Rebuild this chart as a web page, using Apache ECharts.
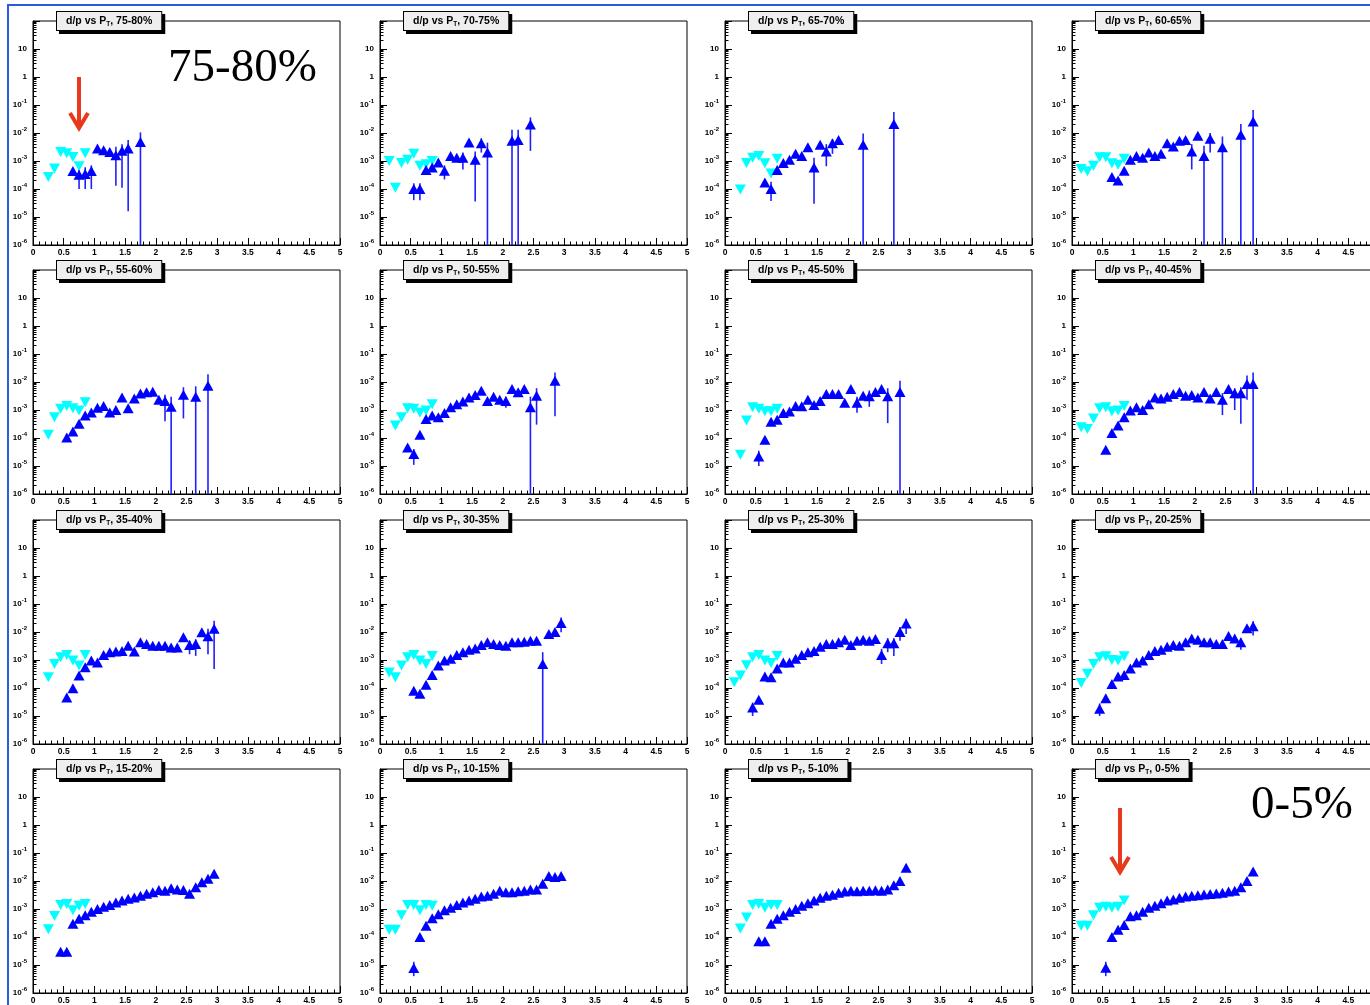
<!DOCTYPE html>
<html>
<head>
<meta charset="utf-8">
<title>d/p vs pT</title>
<script src="https://cdn.jsdelivr.net/npm/echarts@6.0.0/dist/echarts.min.js"></script>
<style>
    html, body { margin: 0; padding: 0; background: #fff; }
    #main { width: 1370px; height: 1005px; }
</style>
</head>
<body>
<div id="main"></div>
<script>
// centrality bins, one panel each (left to right, top to bottom)
const centralities = ['75-80%', '70-75%', '65-70%', '60-65%', '55-60%', '50-55%', '45-50%', '40-45%',
                      '35-40%', '30-35%', '25-30%', '20-25%', '15-20%', '10-15%', '5-10%', '0-5%'];

// cyan points: [pT, d/p]
// blue points: [pT, d/p] or [pT, d/p, errLow, errHigh] when the error bar sticks out
const cyan_75_80 = [[0.25,2.7e-4],[0.35,5.4e-4],[0.45,2.1e-3],[0.55,1.9e-3],[0.65,1.4e-3],[0.75,6.5e-4],[0.85,1.9e-3]];
const blue_75_80 = [[0.65,4.4e-4],[0.75,3.2e-4,1.0e-4,6e-4],[0.85,3.4e-4,1.0e-4,6e-4],[0.95,4.4e-4,1.0e-4,7e-4],[1.05,2.8e-3],[1.15,2.4e-3],[1.25,2.1e-3],
    [1.35,1.6e-3,1.3e-4,3.2e-3],[1.45,2.3e-3,1.1e-4,4e-3],[1.55,2.8e-3,1.6e-5,5.6e-3],[1.75,4.8e-3,1e-6,1.05e-2]];

const cyan_70_75 = [[0.15,1.0e-3],[0.25,1.1e-4],[0.35,8.5e-4],[0.45,1.1e-3],[0.55,1.8e-3],[0.65,6.8e-4],[0.75,7.7e-4],[0.85,1.0e-3]];
const blue_70_75 = [[0.55,1.0e-4,4e-5,1.6e-4],[0.65,1.0e-4,4e-5,1.6e-4],[0.75,4.8e-4],[0.85,5.9e-4],[0.95,8.9e-4],[1.05,4.5e-4,2.2e-4,7e-4],[1.15,1.5e-3],[1.25,1.3e-3],
    [1.35,1.3e-3,5e-4,2e-3],[1.45,4.6e-3],[1.55,1.1e-3,3.6e-5,2.2e-3],[1.65,4.3e-3,2e-3,6.5e-3],[1.75,2.0e-3,1e-6,4.5e-3],[2.15,5.3e-3,1e-6,1.3e-2],
    [2.25,5.6e-3,1e-6,1.3e-2],[2.45,2.0e-2,2.3e-3,3.6e-2]];

const cyan_65_70 = [[0.25,9.5e-5],[0.35,8.5e-4],[0.45,1.3e-3],[0.55,1.5e-3],[0.65,8.3e-4],[0.75,3.6e-4],[0.85,1.2e-3]];
const blue_65_70 = [[0.65,1.7e-4],[0.75,1.0e-4,3.7e-5,1.8e-4],[0.85,4.8e-4],[0.95,8.5e-4],[1.05,1.1e-3],[1.15,1.8e-3],[1.25,1.5e-3],[1.35,3.1e-3],
    [1.45,5.9e-4,3.0e-5,1.3e-3],[1.55,3.8e-3],[1.65,2.2e-3,6.5e-4,4e-3],[1.75,4.3e-3,1.8e-3,6e-3],[1.85,5.6e-3],[2.25,3.8e-3,1e-6,9.5e-3],[2.75,2.1e-2,1e-6,5.6e-2]];

const cyan_60_65 = [[0.15,5.2e-4],[0.25,4.3e-4],[0.35,6.8e-4],[0.45,1.35e-3],[0.55,1.35e-3],[0.65,8.3e-4],[0.75,7.4e-4],[0.85,1.2e-3]];
const blue_60_65 = [[0.65,2.7e-4],[0.75,2.0e-4],[0.85,4.5e-4],[0.95,1.1e-3],[1.05,1.5e-3],[1.15,1.3e-3],[1.25,2.0e-3],[1.35,1.5e-3],[1.45,1.8e-3],[1.55,4.3e-3],
    [1.65,3.3e-3],[1.75,5.3e-3],[1.85,5.6e-3],[1.95,2.2e-3,5e-4,4e-3],[2.05,8e-3],[2.15,1.5e-3,1e-6,3.5e-3],[2.25,6.2e-3,2e-3,1e-2],[2.45,3.1e-3,1e-6,7.5e-3],
    [2.75,8.7e-3,1e-6,2.1e-2],[2.95,2.6e-2,1e-6,6.6e-2]];

const cyan_55_60 = [[0.25,1.3e-4],[0.35,5.5e-4],[0.45,1.1e-3],[0.55,1.4e-3],[0.65,1.15e-3],[0.75,9.5e-4],[0.85,1.9e-3]];
const blue_55_60 = [[0.55,1.05e-4],[0.65,1.7e-4],[0.75,3.2e-4],[0.85,6.3e-4],[0.95,8.2e-4],[1.05,1.2e-3],[1.15,1.4e-3],[1.25,8.2e-4],[1.35,1.0e-3],[1.45,2.8e-3],
    [1.55,1.15e-3],[1.65,2.6e-3],[1.75,3.9e-3],[1.85,4.3e-3],[1.95,4.5e-3],[2.05,2.3e-3],[2.15,2.1e-3,4e-4,3.5e-3],[2.25,1.3e-3,1e-6,3e-3],
    [2.45,3.5e-3,5e-4,6.5e-3],[2.65,3.0e-3,1e-6,7e-3],[2.85,7.4e-3,1e-6,1.9e-2]];

const cyan_50_55 = [[0.25,2.8e-4],[0.35,5.5e-4],[0.45,1.15e-3],[0.55,1.1e-3],[0.65,8.2e-4],[0.75,9.5e-4],[0.85,1.6e-3]];
const blue_50_55 = [[0.45,4.6e-5],[0.55,2.7e-5,1.1e-5,4e-5],[0.65,1.3e-4],[0.75,4.8e-4],[0.85,6.3e-4],[0.95,5.5e-4],[1.05,7.8e-4],[1.15,1.25e-3],[1.25,1.6e-3],
    [1.35,2.0e-3],[1.45,2.8e-3],[1.55,3.4e-3],[1.65,4.9e-3],[1.75,2.1e-3],[1.85,3.0e-3],[1.95,2.3e-3],[2.05,2.1e-3,1.2e-3,3e-3],[2.15,5.6e-3],[2.25,4.3e-3],
    [2.35,5.6e-3],[2.45,1.25e-3,1e-6,3e-3],[2.55,3.2e-3,3e-4,6e-3],[2.85,1.1e-2,6e-4,2.2e-2]];

const cyan_45_50 = [[0.25,2.5e-5],[0.35,4.2e-4],[0.45,1.25e-3],[0.55,1.1e-3],[0.65,9e-4],[0.75,9e-4],[0.85,1.1e-3]];
const blue_45_50 = [[0.55,2.2e-5,1.0e-5,3.5e-5],[0.65,8.7e-5],[0.75,3.8e-4],[0.85,4.5e-4],[0.95,7.8e-4],[1.05,8.9e-4],[1.15,1.4e-3],[1.25,1.35e-3],[1.35,2.3e-3],
    [1.45,1.5e-3],[1.55,2.1e-3],[1.65,3.7e-3],[1.75,3.7e-3],[1.85,3.7e-3],[1.95,1.8e-3],[2.05,5.6e-3],[2.15,1.8e-3,8e-4,3e-3],[2.25,3.2e-3],
    [2.35,3.1e-3,1.3e-3,5e-3],[2.45,4.4e-3],[2.55,5.6e-3],[2.65,3.1e-3,3.4e-4,6e-3],[2.85,4.4e-3,1e-6,1.1e-2]];

const cyan_40_45 = [[0.15,2.4e-4],[0.25,2.1e-4],[0.35,5e-4],[0.45,1.15e-3],[0.55,1.25e-3],[0.65,9e-4],[0.75,9.5e-4],[0.85,1.4e-3]];
const blue_40_45 = [[0.55,3.8e-5],[0.65,1.5e-4],[0.75,2.8e-4],[0.85,5.5e-4],[0.95,9.5e-4],[1.05,1.25e-3],[1.15,1.0e-3],[1.25,1.6e-3],[1.35,2.8e-3],[1.45,2.6e-3],
    [1.55,3.0e-3],[1.65,3.7e-3],[1.75,4.4e-3],[1.85,3.2e-3],[1.95,3.4e-3],[2.05,2.8e-3],[2.15,4.4e-3],[2.25,2.6e-3],[2.35,4.4e-3],[2.45,2.3e-3,6.6e-4,4e-3],
    [2.55,5.6e-3],[2.65,4.0e-3,1e-3,6e-3],[2.75,4.0e-3,3.2e-4,6.5e-3],[2.85,8.5e-3,2.3e-3,1.7e-2],[2.95,8.5e-3,1e-6,2.2e-2]];

const cyan_35_40 = [[0.25,2.4e-4],[0.35,7.2e-4],[0.45,1.25e-3],[0.55,1.5e-3],[0.65,9.5e-4],[0.75,6.3e-4],[0.85,1.5e-3]];
const blue_35_40 = [[0.55,4.6e-5],[0.65,9.7e-5],[0.75,2.8e-4],[0.85,5.5e-4],[0.95,9.5e-4],[1.05,8.2e-4],[1.15,1.5e-3],[1.25,1.9e-3],[1.35,2.0e-3],[1.45,2.1e-3],
    [1.55,3.2e-3],[1.65,2.0e-3],[1.75,4.3e-3],[1.85,3.7e-3],[1.95,3.2e-3],[2.05,3.2e-3],[2.15,3.2e-3],[2.25,2.8e-3],[2.35,2.8e-3],[2.45,6.5e-3],
    [2.55,3.4e-3,1.6e-3,5e-3],[2.65,3.7e-3,1.4e-3,5.5e-3],[2.75,9.8e-3],[2.85,7e-3,1.6e-3,1.3e-2],[2.95,1.3e-2,4.8e-4,2.5e-2]];

const cyan_30_35 = [[0.15,3.6e-4],[0.25,2.4e-4],[0.35,6.3e-4],[0.45,1.25e-3],[0.55,1.5e-3],[0.65,9.5e-4],[0.75,7.2e-4],[0.85,1.4e-3]];
const blue_30_35 = [[0.55,8e-5],[0.65,6.2e-5],[0.75,1.3e-4],[0.85,2.9e-4],[0.95,6.3e-4],[1.05,9.5e-4],[1.15,1.1e-3],[1.25,1.5e-3],[1.35,1.9e-3],[1.45,2.3e-3],
    [1.55,2.6e-3],[1.65,3.4e-3],[1.75,4.3e-3],[1.85,3.7e-3],[1.95,3.4e-3],[2.05,3.2e-3],[2.15,4.3e-3],[2.25,4.3e-3],[2.35,4.5e-3],[2.45,4.9e-3],[2.55,4.9e-3],
    [2.65,7.2e-4,1e-6,1.9e-3],[2.75,8.5e-3],[2.85,1.0e-2],[2.95,2.1e-2,9.7e-3,3.3e-2]];

const cyan_25_30 = [[0.15,1.6e-4],[0.25,2.8e-4],[0.35,6.5e-4],[0.45,1.25e-3],[0.55,1.5e-3],[0.65,9.5e-4],[0.75,7.8e-4],[0.85,1.4e-3]];
const blue_25_30 = [[0.45,2.0e-5,1.0e-5,3e-5],[0.55,3.8e-5],[0.65,2.6e-4],[0.75,2.4e-4],[0.85,5e-4],[0.95,8.2e-4],[1.05,8.2e-4],[1.15,1.1e-3],[1.25,1.5e-3],
    [1.35,1.9e-3],[1.45,2.1e-3],[1.55,3.0e-3],[1.65,3.7e-3],[1.75,3.7e-3],[1.85,4.3e-3],[1.95,5.3e-3],[2.05,3.4e-3],[2.15,4.9e-3],[2.25,5.3e-3],[2.35,4.9e-3],
    [2.45,5.6e-3],[2.55,1.5e-3,7.2e-4,2.5e-3],[2.65,4.0e-3,1.9e-3,6e-3],[2.75,4.0e-3,1.4e-3,6e-3],[2.85,1.0e-2,4.9e-3,1.5e-2],[2.95,2.0e-2,8.5e-3,3e-2]];

const cyan_20_25 = [[0.15,1.5e-4],[0.25,3.2e-4],[0.35,7.2e-4],[0.45,1.25e-3],[0.55,1.35e-3],[0.65,1.0e-3],[0.75,9.5e-4],[0.85,1.35e-3]];
const blue_20_25 = [[0.45,1.8e-5,1.0e-5,2.8e-5],[0.55,4.3e-5],[0.65,1.4e-4],[0.75,2.6e-4],[0.85,2.9e-4],[0.95,5.0e-4],[1.05,8.2e-4],[1.15,9.5e-4],[1.25,1.5e-3],
    [1.35,2.1e-3],[1.45,2.3e-3],[1.55,3.0e-3],[1.65,3.4e-3],[1.75,3.2e-3],[1.85,4.3e-3],[1.95,5.9e-3],[2.05,5.3e-3],[2.15,4.3e-3],[2.25,4.3e-3],[2.35,3.7e-3],
    [2.45,3.7e-3],[2.55,7.2e-3],[2.65,5.9e-3],[2.75,4.3e-3,2.3e-3,6e-3],[2.85,1.35e-2],[2.95,1.6e-2,7.5e-3,2.4e-2]];

const cyan_15_20 = [[0.25,1.9e-4],[0.35,5.6e-4],[0.45,1.4e-3],[0.55,1.5e-3],[0.65,9e-4],[0.75,1.3e-3],[0.85,1.5e-3]];
const blue_15_20 = [[0.45,3.0e-5],[0.55,3.0e-5],[0.65,3.0e-4],[0.75,4.5e-4],[0.85,6e-4],[0.95,8e-4],[1.05,1.0e-3],[1.15,1.2e-3],[1.25,1.4e-3],[1.35,1.7e-3],
    [1.45,2.0e-3],[1.55,2.3e-3],[1.65,2.6e-3],[1.75,3.0e-3],[1.85,3.5e-3],[1.95,4.0e-3],[2.05,4.8e-3],[2.15,4.5e-3],[2.25,5.5e-3],[2.35,5.0e-3],[2.45,4.8e-3],
    [2.55,3.5e-3],[2.65,6e-3],[2.75,9e-3],[2.85,1.2e-2],[2.95,1.8e-2]];

const cyan_10_15 = [[0.15,1.8e-4],[0.25,1.8e-4],[0.35,6e-4],[0.45,1.4e-3],[0.55,1.4e-3],[0.65,9e-4],[0.75,1.4e-3],[0.85,1.3e-3]];
const blue_10_15 = [[0.55,7.8e-6,4e-6,1.3e-5],[0.65,1.0e-4],[0.75,2.5e-4],[0.85,4.7e-4],[0.95,6.5e-4],[1.05,9e-4],[1.15,1.1e-3],[1.25,1.4e-3],[1.35,1.7e-3],
    [1.45,2.0e-3],[1.55,2.3e-3],[1.65,2.8e-3],[1.75,3.0e-3],[1.85,3.5e-3],[1.95,4.5e-3],[2.05,4.0e-3],[2.15,4.0e-3],[2.25,4.3e-3],[2.35,4.5e-3],[2.45,5.0e-3],
    [2.55,5.0e-3],[2.65,8e-3],[2.75,1.5e-2],[2.85,1.4e-2],[2.95,1.5e-2]];

const cyan_5_10 = [[0.25,2.0e-4],[0.35,5e-4],[0.45,1.4e-3],[0.55,1.5e-3],[0.65,1.1e-3],[0.75,1.4e-3],[0.85,1.4e-3]];
const blue_5_10 = [[0.55,7e-5],[0.65,7e-5],[0.75,3.0e-4],[0.85,4.5e-4],[0.95,6e-4],[1.05,8e-4],[1.15,1.0e-3],[1.25,1.3e-3],[1.35,1.6e-3],[1.45,2.0e-3],
    [1.55,2.5e-3],[1.65,3.0e-3],[1.75,3.2e-3],[1.85,3.8e-3],[1.95,4.2e-3],[2.05,4.5e-3],[2.15,4.3e-3],[2.25,4.5e-3],[2.35,4.5e-3],[2.45,4.7e-3],[2.55,4.5e-3],
    [2.65,5.0e-3],[2.75,7e-3],[2.85,1.0e-2],[2.95,3.0e-2]];

const cyan_0_5 = [[0.15,2.5e-4],[0.25,2.5e-4],[0.35,6e-4],[0.45,1.1e-3],[0.55,1.2e-3],[0.65,1.1e-3],[0.75,1.2e-3],[0.85,2e-3]];
const blue_0_5 = [[0.55,8e-6,4e-6,1.3e-5],[0.65,1e-4],[0.75,1.8e-4],[0.85,2.7e-4],[0.95,5.5e-4],[1.05,6e-4],[1.15,8e-4],[1.25,1.1e-3],[1.35,1.3e-3],[1.45,1.6e-3],
    [1.55,2.0e-3],[1.65,2.2e-3],[1.75,2.5e-3],[1.85,2.8e-3],[1.95,3.0e-3],[2.05,3.1e-3],[2.15,3.3e-3],[2.25,3.4e-3],[2.35,3.6e-3],[2.45,3.8e-3],[2.55,4.2e-3],
    [2.65,4.5e-3],[2.75,6e-3],[2.85,1.0e-2],[2.95,2.2e-2]];

const cyanSets = [cyan_75_80, cyan_70_75, cyan_65_70, cyan_60_65, cyan_55_60, cyan_50_55, cyan_45_50, cyan_40_45,
                  cyan_35_40, cyan_30_35, cyan_25_30, cyan_20_25, cyan_15_20, cyan_10_15, cyan_5_10, cyan_0_5];
const blueSets = [blue_75_80, blue_70_75, blue_65_70, blue_60_65, blue_55_60, blue_50_55, blue_45_50, blue_40_45,
                  blue_35_40, blue_30_35, blue_25_30, blue_20_25, blue_15_20, blue_10_15, blue_5_10, blue_0_5];

// axis ranges
const xRange = [0, 5];
const yRange = [1e-6, 100];

const font = 'Liberation Sans, Arial, sans-serif';
const colLeft = [33, 380, 725, 1072];
const rowTop = [21, 270, 520, 769];
const panelW = 307, panelH = 224;

function renderErr(params, api) {
    let lo = api.coord([api.value(0), api.value(1)]);
    let hi = api.coord([api.value(0), api.value(2)]);
    return {
        type: 'line',
        shape: { x1: lo[0], y1: lo[1], x2: hi[0], y2: hi[1] },
        style: { stroke: '#1f1fff', lineWidth: 1.6 }
    };
}

function yLabel(value) {
    let e = Math.round(Math.log10(value));
    if (e >= 2) return '';
    if (e === 1) return '{b|10}';
    if (e === 0) return '{b|1}';
    return '{b|10}{s|' + e + '}';
}

let grids = [], xAxes = [], yAxes = [], series = [], graphics = [];

for (let i = 0; i < centralities.length; i++) {
    let gx = colLeft[i % 4], gy = rowTop[Math.floor(i / 4)];
    grids.push({
        left: gx, top: gy, width: panelW, height: panelH,
        show: true, borderColor: '#000', borderWidth: 1, backgroundColor: '#fff',
        containLabel: false, outerBoundsMode: 'none'
    });
    xAxes.push({
        type: 'value', gridIndex: i, min: xRange[0], max: xRange[1], interval: 0.5,
        axisLine: { show: true, onZero: false, lineStyle: { color: '#000', width: 1 } },
        axisTick: { show: true, inside: true, length: 7, lineStyle: { color: '#000' } },
        minorTick: { show: true, splitNumber: 5, length: 3.5, lineStyle: { color: '#000' } },
        axisLabel: { color: '#000', fontSize: 8.5, fontWeight: 'bold', fontFamily: font, margin: 3, hideOverlap: false },
        splitLine: { show: false }
    });
    yAxes.push({
        type: 'log', logBase: 10, gridIndex: i, min: yRange[0], max: yRange[1], splitNumber: 8,
        axisLine: { show: true, lineStyle: { color: '#000', width: 1 } },
        axisTick: { show: true, inside: true, length: 7, lineStyle: { color: '#000' } },
        minorTick: { show: true, splitNumber: 9, length: 3.5, lineStyle: { color: '#000' } },
        axisLabel: {
            formatter: yLabel, margin: 6, hideOverlap: false,
            rich: {
                b: { fontSize: 8, fontWeight: 'bold', fontFamily: font, color: '#000' },
                s: { fontSize: 6, fontWeight: 'bold', fontFamily: font, color: '#000', verticalAlign: 'top', padding: [0, 0, 7, 0] }
            }
        },
        splitLine: { show: false }
    });

    series.push({
        type: 'scatter', xAxisIndex: i, yAxisIndex: i,
        symbol: 'triangle', symbolRotate: 180, symbolSize: [11, 10],
        itemStyle: { color: '#00ffff', opacity: 1 },
        data: cyanSets[i]
    });
    series.push({
        type: 'custom', xAxisIndex: i, yAxisIndex: i, clip: true,
        renderItem: renderErr,
        encode: { x: 0, y: [1, 2] },
        data: blueSets[i].filter(d => d.length === 4).map(d => [d[0], d[2], d[3]])
    });
    series.push({
        type: 'scatter', xAxisIndex: i, yAxisIndex: i,
        symbol: 'triangle', symbolSize: [11, 10],
        itemStyle: { color: '#0000ff', opacity: 1 },
        data: blueSets[i].map(d => [d[0], d[1]])
    });

    // ROOT style title box
    graphics.push({
        type: 'text', x: gx + 24, y: gy - 9, z: 50,
        style: {
            text: '{t|d/p vs P}{u|T}{t|, ' + centralities[i] + '}',
            rich: {
                t: { fontSize: 10.5, fontWeight: 'bold', fontFamily: font, fill: '#000', lineHeight: 14 },
                u: { fontSize: 6.5, fontWeight: 'bold', fontFamily: font, fill: '#000', verticalAlign: 'bottom', lineHeight: 14, padding: [6, 0, 0, 0] }
            },
            backgroundColor: '#eeeeee', borderColor: '#000', borderWidth: 1,
            padding: [2, 9, 2, 9],
            shadowColor: '#000', shadowOffsetX: 3, shadowOffsetY: 3, shadowBlur: 0
        }
    });
}

// big labels and red arrows
graphics.push({
    type: 'text', x: 168, y: 45, z: 60,
    style: { text: '75-80%', fontSize: 47, fontFamily: 'Liberation Serif, Times New Roman, serif', fill: '#000' }
});
graphics.push({
    type: 'text', x: 1251, y: 782, z: 60,
    style: { text: '0-5%', fontSize: 47, fontFamily: 'Liberation Serif, Times New Roman, serif', fill: '#000' }
});
[[79, 77, 128], [1120, 808, 872]].forEach(function (a) {
    graphics.push({
        type: 'group', z: 60,
        children: [
            { type: 'line', shape: { x1: a[0], y1: a[1], x2: a[0], y2: a[2] - 3 }, style: { stroke: '#e8391d', lineWidth: 4 } },
            { type: 'polyline', shape: { points: [[a[0] - 9, a[2] - 15], [a[0], a[2]], [a[0] + 9, a[2] - 15]] },
              style: { stroke: '#e8391d', lineWidth: 4, fill: null, lineJoin: 'miter' } }
        ]
    });
});
// outer blue frame
graphics.push({
    type: 'rect', z: 70, shape: { x: 8, y: 5, width: 1380, height: 1010 },
    style: { fill: null, stroke: '#2d5be0', lineWidth: 2 }
});

let myChart = echarts.init(document.getElementById('main'), null, { renderer: 'canvas' });
myChart.setOption({
    animation: false,
    backgroundColor: '#fff',
    grid: grids,
    xAxis: xAxes,
    yAxis: yAxes,
    series: series,
    graphic: graphics
});
</script>
</body>
</html>
